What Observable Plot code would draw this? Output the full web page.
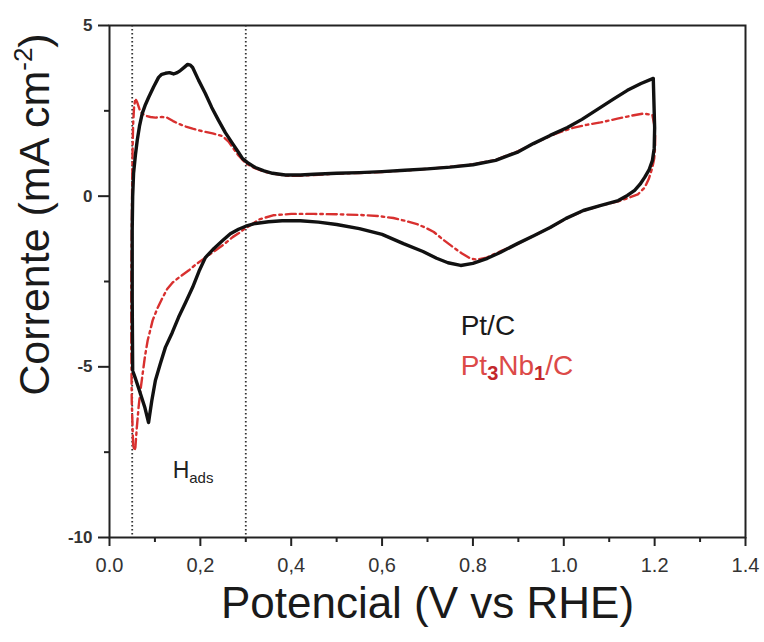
<!DOCTYPE html>
<html>
<head>
<meta charset="utf-8">
<script src="https://cdn.jsdelivr.net/npm/d3@7"></script>
<script src="https://cdn.jsdelivr.net/npm/@observablehq/plot@0.6"></script>
<style>
  html, body { margin: 0; padding: 0; background: #fff; }
</style>
</head>
<body>
<div id="chart"></div>
<script>
// ---------- data ----------
const seriesNames = ["Pt/C", "Pt3Nb1/C"];

// Pt/C cyclic voltammogram (anodic sweep then cathodic sweep)
const ptcV = [0.051, 0.050, 0.050, 0.051, 0.053, 0.057, 0.061, 0.066, 0.072, 0.079, 0.086, 0.097, 0.108, 0.115, 0.123, 0.132, 0.141, 0.149, 0.156, 0.165, 0.172, 0.178, 0.183, 0.196, 0.211, 0.225, 0.240, 0.255, 0.271, 0.283, 0.293, 0.305, 0.321, 0.340, 0.359, 0.387, 0.42, 0.45, 0.50, 0.55, 0.60, 0.65, 0.70, 0.75, 0.80, 0.85, 0.90, 0.933, 0.97, 1.008, 1.04, 1.081, 1.11, 1.14, 1.17, 1.197,
  1.200, 1.199, 1.195, 1.188, 1.178, 1.168, 1.156, 1.14, 1.12, 1.08, 1.043, 1.005, 0.97, 0.935, 0.898, 0.86, 0.832, 0.80, 0.773, 0.745, 0.72, 0.69, 0.647, 0.60, 0.55, 0.50, 0.46, 0.42, 0.38, 0.35, 0.321, 0.30, 0.284, 0.266, 0.249, 0.230, 0.211, 0.197, 0.183, 0.168, 0.152, 0.138, 0.123, 0.112, 0.101, 0.093, 0.088, 0.086, 0.078, 0.066, 0.056, 0.052];
const ptcI = [-5.1, -3.0, -1.0, 0.0, 0.67, 1.2, 1.63, 2.05, 2.42, 2.68, 2.89, 3.2, 3.48, 3.57, 3.60, 3.62, 3.58, 3.62, 3.68, 3.78, 3.86, 3.84, 3.77, 3.40, 3.01, 2.60, 2.22, 1.86, 1.54, 1.30, 1.10, 0.97, 0.84, 0.74, 0.67, 0.62, 0.62, 0.64, 0.67, 0.69, 0.72, 0.76, 0.80, 0.85, 0.92, 1.05, 1.30, 1.54, 1.78, 2.01, 2.25, 2.60, 2.85, 3.10, 3.30, 3.45,
  2.0, 1.4, 1.04, 0.78, 0.55, 0.35, 0.17, 0.02, -0.13, -0.28, -0.42, -0.65, -0.92, -1.15, -1.39, -1.65, -1.82, -1.97, -2.03, -1.95, -1.82, -1.62, -1.39, -1.12, -0.95, -0.83, -0.76, -0.72, -0.72, -0.75, -0.80, -0.88, -0.97, -1.1, -1.3, -1.53, -1.8, -2.2, -2.67, -3.1, -3.55, -4.0, -4.43, -4.9, -5.4, -6.0, -6.45, -6.63, -6.2, -5.7, -5.3, -5.15];

// Pt3Nb1/C cyclic voltammogram
const ptnbV = [0.052, 0.049, 0.048, 0.048, 0.049, 0.050, 0.051, 0.052, 0.054, 0.057, 0.061, 0.066, 0.072, 0.079, 0.09, 0.101, 0.115, 0.127, 0.14, 0.152, 0.168, 0.183, 0.205, 0.227, 0.249, 0.262, 0.271, 0.284, 0.30, 0.32, 0.34, 0.36, 0.39, 0.42, 0.45, 0.50, 0.55, 0.60, 0.65, 0.70, 0.75, 0.80, 0.85, 0.90, 0.94, 0.98, 1.02, 1.05, 1.081, 1.118, 1.15, 1.175, 1.195,
  1.199, 1.201, 1.201, 1.199, 1.195, 1.187, 1.178, 1.163, 1.14, 1.12, 1.08, 1.043, 1.005, 0.97, 0.935, 0.898, 0.86, 0.83, 0.81, 0.795, 0.776, 0.757, 0.735, 0.714, 0.695, 0.677, 0.65, 0.625, 0.59, 0.55, 0.50, 0.45, 0.40, 0.36, 0.33, 0.31, 0.295, 0.285, 0.271, 0.253, 0.233, 0.211, 0.19, 0.174, 0.155, 0.139, 0.127, 0.117, 0.105, 0.095, 0.084, 0.078, 0.073, 0.068, 0.064, 0.060, 0.057, 0.055, 0.053];
const ptnbI = [-7.3, -6.0, -4.5, -2.5, -1.0, 0.5, 1.5, 2.1, 2.6, 2.86, 2.75, 2.55, 2.42, 2.36, 2.32, 2.30, 2.32, 2.30, 2.2, 2.12, 2.04, 1.98, 1.9, 1.84, 1.76, 1.6, 1.43, 1.19, 0.96, 0.82, 0.72, 0.66, 0.60, 0.60, 0.62, 0.66, 0.68, 0.71, 0.75, 0.80, 0.86, 0.93, 1.06, 1.32, 1.58, 1.82, 2.0, 2.09, 2.16, 2.27, 2.36, 2.42, 2.38,
  2.1, 1.8, 1.43, 1.1, 0.84, 0.5, 0.25, 0.05, -0.06, -0.15, -0.28, -0.43, -0.66, -0.92, -1.15, -1.40, -1.62, -1.80, -1.86, -1.83, -1.68, -1.5, -1.28, -1.05, -0.92, -0.82, -0.72, -0.64, -0.58, -0.55, -0.53, -0.52, -0.52, -0.56, -0.68, -0.85, -0.98, -1.08, -1.2, -1.4, -1.59, -1.8, -2.0, -2.18, -2.36, -2.53, -2.72, -2.97, -3.3, -3.64, -4.23, -4.7, -5.2, -5.7, -6.19, -6.8, -7.36, -7.45, -7.35];

// axes
const xTicks = [0, 0.2, 0.4, 0.6, 0.8, 1.0, 1.2, 1.4];
const xTickLabels = ["0.0", "0,2", "0,4", "0,6", "0.8", "1.0", "1.2", "1.4"];
const xMinor = [0.1, 0.3, 0.5, 0.7, 0.9, 1.1, 1.3];
const yTicks = [5, 0, -5, -10];
const yTickLabels = ["5", "0", "-5", "-10"];
const yMinor = [2.5, -2.5, -7.5];
const hadsBounds = [0.05, 0.3];
const xTitle = "Potencial (V vs RHE)";
const yTitle = "Corrente (mA cm-2)";
const regionLabel = "Hads";

// ---------- tables ----------
const ptc = ptcV.map((v, i) => ({V: v, I: ptcI[i]}));
const ptnb = ptnbV.map((v, i) => ({V: v, I: ptnbI[i]}));

const FONT = "'Liberation Sans', Arial, Helvetica, sans-serif";

const chart = Plot.plot({
  width: 764,
  height: 642,
  marginLeft: 109,
  marginRight: 19,
  marginTop: 25,
  marginBottom: 105,
  style: {fontFamily: FONT, background: "#fff", color: "#222", overflow: "visible"},
  x: {domain: [0, 1.4], label: null},
  y: {domain: [-10, 5], label: null},
  marks: [
    Plot.ruleX(hadsBounds, {stroke: "#333", strokeWidth: 1.8, strokeDasharray: "1.6,2.4"}),
    Plot.line(ptnb, {x: "V", y: "I", stroke: "#d8302f", strokeWidth: 2.4, strokeDasharray: "10,4,2.5,4", strokeLinejoin: "round"}),
    Plot.line(ptc, {x: "V", y: "I", stroke: "#111", strokeWidth: 3.4, strokeLinejoin: "round"}),
    Plot.frame({stroke: "#222", strokeWidth: 2}),
    Plot.axisX(xTicks, {anchor: "bottom", tickSize: 9, tickPadding: 11, strokeWidth: 2, fontSize: 20, label: null,
      tickFormat: d => xTickLabels[xTicks.indexOf(d)], fill: "#333"}),
    Plot.axisX(xMinor, {anchor: "bottom", tickSize: 5, strokeWidth: 2, tickFormat: () => "", label: null}),
    Plot.axisY(yTicks, {anchor: "left", tickSize: 11, tickPadding: 6, strokeWidth: 2, fontSize: 17, fontWeight: "bold", label: null,
      tickFormat: d => yTickLabels[yTicks.indexOf(d)], fill: "#333"}),
    Plot.axisY(yMinor, {anchor: "left", tickSize: 5, strokeWidth: 2, tickFormat: () => "", label: null}),
    Plot.text([regionLabel], {x: 0.139, y: -8.27, text: d => d, textAnchor: "start", lineAnchor: "bottom", fontSize: 23, fill: "#222"}),
    Plot.text([seriesNames[0]], {x: 0.773, y: -4.08, text: d => d, textAnchor: "start", lineAnchor: "bottom", fontSize: 28, fill: "#1a1a1a"}),
    Plot.text([seriesNames[1]], {x: 0.773, y: -5.25, text: d => d, textAnchor: "start", lineAnchor: "bottom", fontSize: 28, fill: "#dc4a48"}),
    Plot.text([xTitle], {frameAnchor: "bottom", dy: 80, text: d => d, lineAnchor: "bottom", fontSize: 44, fill: "#1a1a1a"}),
    Plot.text([yTitle], {frameAnchor: "top-left", dx: -74, dy: 189, rotate: -90, text: d => d, textAnchor: "middle", lineAnchor: "middle", fontSize: 43, fill: "#1a1a1a"})
  ]
});

document.getElementById("chart").appendChild(chart);

// ---------- rich text (sub/superscripts) ----------
function rebuild(el, parts) {
  const t = d3.select(el);
  t.text(null);
  for (const p of parts) {
    const s = t.append("tspan").text(p.text);
    if (p.dy) s.attr("dy", p.dy);
    if (p.size) s.attr("font-size", p.size);
    if (p.fill) s.attr("fill", p.fill);
    if (p.weight) s.attr("font-weight", p.weight);
  }
}
d3.select(chart).selectAll("text").each(function() {
  const s = this.textContent;
  if (s === regionLabel) {
    rebuild(this, [{text: "H"}, {text: "ads", size: 15, dy: 5}]);
  } else if (s === seriesNames[1]) {
    rebuild(this, [
      {text: "Pt"}, {text: "3", size: 20, dy: 5, fill: "#c2262b", weight: "bold"},
      {text: "Nb", dy: -5}, {text: "1", size: 20, dy: 5, fill: "#c2262b", weight: "bold"},
      {text: "/C", dy: -5}
    ]);
  } else if (s === yTitle) {
    rebuild(this, [{text: "Corrente (mA cm"}, {text: "-2", size: 26, dy: -17}, {text: ")", dy: 17}]);
  }
});
</script>
</body>
</html>
